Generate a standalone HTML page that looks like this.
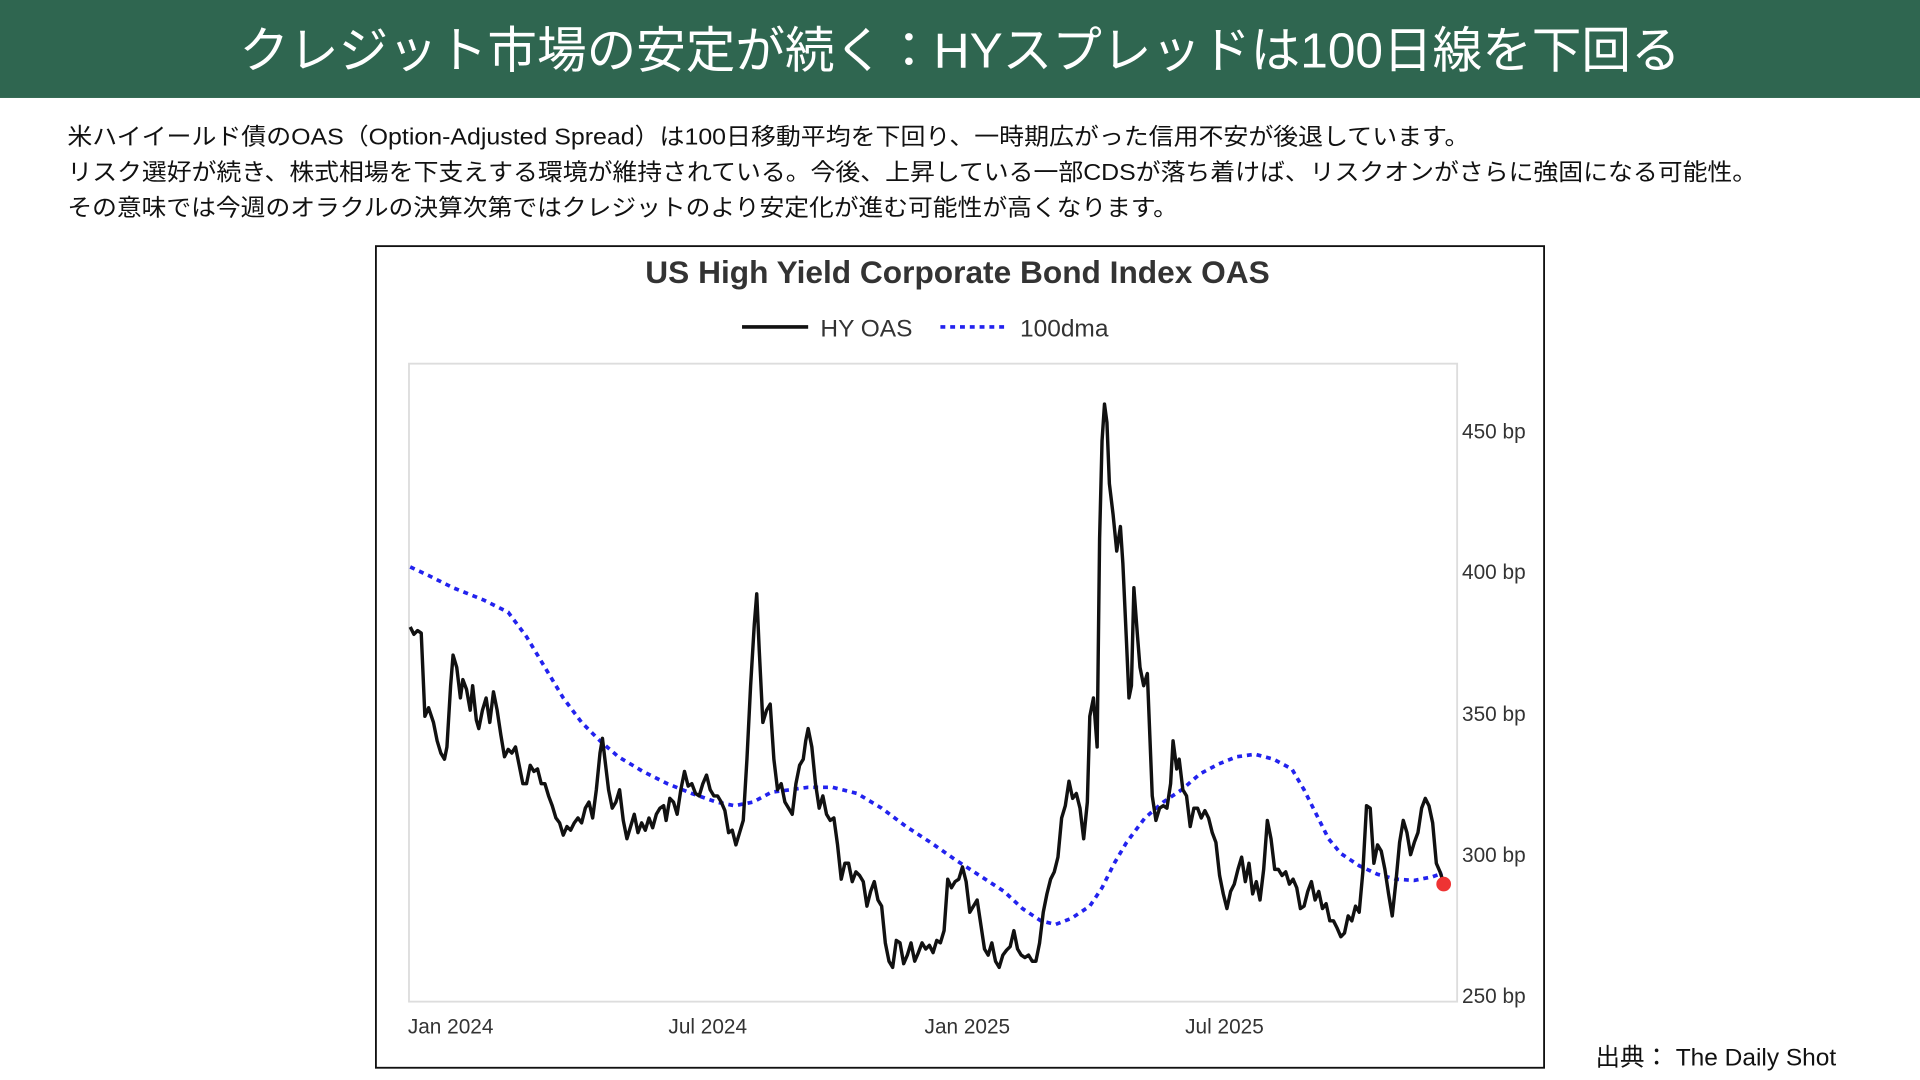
<!DOCTYPE html>
<html><head><meta charset="utf-8"><style>
html,body{margin:0;padding:0;background:#fff;width:1920px;height:1080px;overflow:hidden}
svg{display:block}
text{font-family:"Liberation Sans","Noto Sans CJK JP",sans-serif}
</style></head><body>
<svg width="1920" height="1080" viewBox="0 0 1568 882" xmlns="http://www.w3.org/2000/svg">
<rect x="0" y="0" width="1568" height="80" fill="#2f6650"/>
<text x="784" y="55" text-anchor="middle" font-size="40.5" fill="#fff" textLength="1177" lengthAdjust="spacingAndGlyphs">クレジット市場の安定が続く：HYスプレッドは100日線を下回る</text>
<g font-size="19" fill="#111">
<text x="55" y="118" textLength="1145" lengthAdjust="spacingAndGlyphs">米ハイイールド債のOAS（Option-Adjusted Spread）は100日移動平均を下回り、一時期広がった信用不安が後退しています。</text>
<text x="55" y="147" textLength="1380" lengthAdjust="spacingAndGlyphs">リスク選好が続き、株式相場を下支えする環境が維持されている。今後、上昇している一部CDSが落ち着けば、リスクオンがさらに強固になる可能性。</text>
<text x="55" y="176" textLength="907" lengthAdjust="spacingAndGlyphs">その意味では今週のオラクルの決算次第ではクレジットのより安定化が進む可能性が高くなります。</text>
</g>
<rect x="307" y="201" width="954" height="671" fill="#fff" stroke="#111" stroke-width="1.5"/>
<text x="782" y="231" text-anchor="middle" font-size="26" font-weight="bold" fill="#333" textLength="510" lengthAdjust="spacingAndGlyphs">US High Yield Corporate Bond Index OAS</text>
<line x1="606" y1="267" x2="660" y2="267" stroke="#111" stroke-width="3"/>
<text x="670" y="275" font-size="20" fill="#333">HY OAS</text>
<line x1="768" y1="267" x2="820" y2="267" stroke="#2222ee" stroke-width="3" stroke-dasharray="4,4"/>
<text x="833" y="275" font-size="20" fill="#333">100dma</text>
<rect x="334" y="297" width="856" height="521" fill="none" stroke="#ddd" stroke-width="1.5"/>
<g font-size="17" fill="#333">
<text x="1194" y="358">450 bp</text><text x="1194" y="473">400 bp</text><text x="1194" y="589">350 bp</text><text x="1194" y="704">300 bp</text><text x="1194" y="819">250 bp</text>
<text x="368" y="844" text-anchor="middle">Jan 2024</text><text x="578" y="844" text-anchor="middle">Jul 2024</text><text x="790" y="844" text-anchor="middle">Jan 2025</text><text x="1000" y="844" text-anchor="middle">Jul 2025</text>
</g>
<polyline fill="none" stroke="#2222ee" stroke-width="3" stroke-dasharray="4,4" points="335,463 350,470 370,480 395,490 415,500 430,520 445,545 460,570 475,590 490,605 505,618 525,630 545,640 565,648 585,655 600,658 615,655 630,647 645,645 660,643 680,643 700,648 720,660 740,675 760,688 780,702 800,715 820,728 835,742 850,752 862,755 875,750 890,740 900,725 910,705 920,688 935,668 950,655 965,645 980,632 995,624 1010,618 1025,616 1040,620 1055,628 1065,645 1075,665 1085,685 1095,697 1110,707 1125,714 1140,718 1155,719 1170,716 1178,713"/>
<polyline fill="none" stroke="#111" stroke-width="2.8" stroke-linejoin="round" points="335,512 338,518 341,515 344,517 347,585 350,578 354,590 357,605 360,615 363,620 365,610 368,560 370,535 373,545 376,570 378,555 381,563 384,580 386,560 389,588 391,595 394,580 397,570 400,590 403,565 406,580 409,600 412,618 415,612 418,615 421,610 424,625 427,640 430,640 433,625 436,630 439,628 442,640 445,640 448,650 451,658 454,668 457,672 460,682 463,675 466,678 469,672 472,668 475,672 478,660 481,655 484,668 487,645 490,615 492,603 494,620 497,645 500,660 503,655 506,645 509,670 512,685 515,675 518,665 521,680 524,672 527,678 530,668 533,676 536,665 539,660 542,658 544,670 547,652 550,655 553,665 556,645 559,630 562,642 565,640 568,648 571,650 574,640 577,633 580,645 583,650 586,650 589,655 592,662 595,680 598,678 601,690 604,680 607,670 610,620 613,560 616,510 618,485 620,530 623,590 626,580 629,575 632,620 635,645 638,640 641,655 644,660 647,665 650,640 653,625 656,620 658,605 660,595 663,610 666,640 669,660 672,650 675,665 678,670 681,668 684,690 687,718 690,705 693,705 696,720 699,712 702,715 705,720 708,740 711,728 714,720 717,735 720,740 723,770 726,785 729,790 732,768 735,770 738,787 741,780 744,770 747,785 750,778 753,770 756,775 759,772 762,778 765,768 768,770 771,760 774,718 777,725 780,720 783,718 786,708 789,720 792,745 795,740 798,735 801,755 804,775 807,780 810,770 813,785 816,790 819,780 822,776 825,773 828,760 831,775 834,780 837,782 840,780 843,785 846,785 849,770 852,745 855,730 858,718 861,712 864,700 867,668 870,658 873,638 876,652 879,648 882,660 885,685 888,655 890,585 893,570 896,610 898,440 900,360 902,330 904,345 906,395 909,420 912,450 915,430 917,460 920,525 922,570 924,560 926,480 929,520 931,545 934,560 937,550 939,600 941,650 944,670 947,660 950,658 953,660 956,640 958,605 961,628 963,620 966,645 969,650 972,675 975,660 978,660 981,668 984,662 987,668 990,680 993,688 996,715 999,730 1002,742 1005,728 1008,722 1011,710 1014,700 1017,720 1020,705 1023,730 1026,720 1029,735 1032,710 1035,670 1038,685 1041,710 1044,710 1047,715 1050,712 1053,722 1056,718 1059,725 1062,742 1065,740 1068,728 1071,720 1074,735 1077,728 1080,742 1083,738 1086,752 1089,752 1092,758 1095,765 1098,762 1101,748 1104,752 1107,740 1110,745 1113,712 1116,658 1119,660 1122,705 1125,690 1128,695 1131,710 1134,730 1137,748 1140,720 1143,688 1146,670 1149,680 1152,698 1155,688 1158,680 1161,660 1164,652 1167,658 1170,672 1173,705 1176,712 1178,718"/>
<circle cx="1179" cy="722" r="6" fill="#ee3333"/>
<text x="1303" y="870" font-size="20" fill="#111">出典： The Daily Shot</text>
</svg>
</body></html>
